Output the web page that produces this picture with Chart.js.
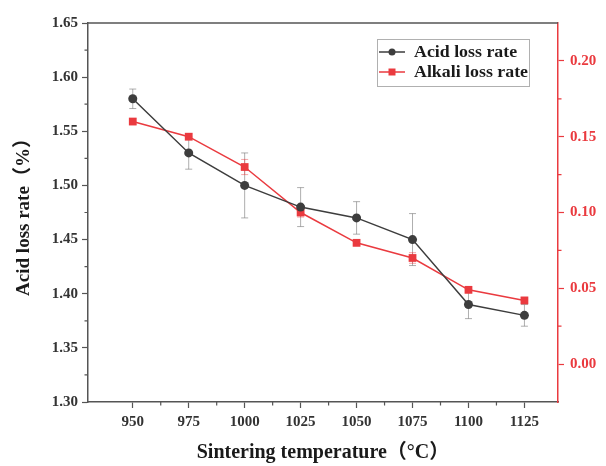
<!DOCTYPE html>
<html>
<head>
<meta charset="utf-8">
<script src="https://cdn.jsdelivr.net/npm/chart.js@4/dist/chart.umd.min.js"></script>
<style>
html,body{margin:0;padding:0;background:#fff;}
#wrap{width:606px;height:466px;}
</style>
</head>
<body>
<div id="wrap"><canvas id="c" width="606" height="466"></canvas></div>
<script>
const temperatures = [950, 975, 1000, 1025, 1050, 1075, 1100, 1125];
const acidLoss = [1.58, 1.53, 1.50, 1.48, 1.47, 1.45, 1.39, 1.38];
const acidErr = [0.009, 0.015, 0.03, 0.018, 0.015, 0.024, 0.013, 0.01];
const alkaliLoss = [0.160, 0.150, 0.130, 0.100, 0.080, 0.070, 0.049, 0.042];
const alkaliErr = [0.002, 0.002, 0.005, 0.003, 0.002, 0.0035, 0.002, 0.002];
const xTicks = [950, 975, 1000, 1025, 1050, 1075, 1100, 1125];
const xMinor = [962.5, 987.5, 1012.5, 1037.5, 1062.5, 1087.5, 1112.5];
const yTicks = [1.30, 1.35, 1.40, 1.45, 1.50, 1.55, 1.60, 1.65];
const yMinor = [1.325, 1.375, 1.425, 1.475, 1.525, 1.575, 1.625];
const y2Ticks = [0.00, 0.05, 0.10, 0.15, 0.20];
const y2Minor = [0.025, 0.075, 0.125, 0.175];
const seriesNames = ['Acid loss rate', 'Alkali loss rate'];

const BLACK = '#3d3d3d';
const RED = '#ea3a3f';
const AXIS = '#555555';
const SERIF = '"Liberation Serif", "Times New Roman", "Noto Sans CJK SC", serif';

const fixTicks = (arr) => (scale) => { scale.ticks = arr.map(v => ({ value: v })); };

const extras = {
  id: 'extras',
  beforeDatasetsDraw(chart) {
    const ctx = chart.ctx;
    const x = chart.scales.x, y = chart.scales.y, y2 = chart.scales.y2;
    ctx.save();
    ctx.lineWidth = 1;
    const bars = (vals, errs, sc, color) => {
      ctx.strokeStyle = color;
      vals.forEach((v, i) => {
        const px = x.getPixelForValue(temperatures[i]);
        const t = sc.getPixelForValue(v + errs[i]);
        const b = sc.getPixelForValue(v - errs[i]);
        ctx.beginPath();
        ctx.moveTo(px, t); ctx.lineTo(px, b);
        ctx.moveTo(px - 3.5, t); ctx.lineTo(px + 3.5, t);
        ctx.moveTo(px - 3.5, b); ctx.lineTo(px + 3.5, b);
        ctx.stroke();
      });
    };
    bars(acidLoss, acidErr, y, 'rgba(120,120,120,0.6)');
    bars(alkaliLoss, alkaliErr, y2, 'rgba(234,58,63,0.45)');
    ctx.restore();
  },
  afterDraw(chart) {
    const ctx = chart.ctx;
    const a = chart.chartArea;
    const x = chart.scales.x, y = chart.scales.y, y2 = chart.scales.y2;
    ctx.save();
    // top border
    ctx.strokeStyle = AXIS;
    ctx.lineWidth = 1.5;
    ctx.beginPath();
    ctx.moveTo(a.left, a.top); ctx.lineTo(a.right, a.top);
    ctx.stroke();
    // minor ticks
    ctx.lineWidth = 1.2;
    ctx.beginPath();
    xMinor.forEach(v => { const p = x.getPixelForValue(v); ctx.moveTo(p, a.bottom); ctx.lineTo(p, a.bottom + 3.5); });
    yMinor.forEach(v => { const p = y.getPixelForValue(v); ctx.moveTo(a.left, p); ctx.lineTo(a.left - 3.5, p); });
    ctx.stroke();
    ctx.strokeStyle = RED;
    ctx.beginPath();
    y2Minor.forEach(v => { const p = y2.getPixelForValue(v); ctx.moveTo(a.right, p); ctx.lineTo(a.right + 3.5, p); });
    ctx.stroke();
    // legend
    const lx = 377, ly = 39, lw = 152, lh = 47;
    ctx.fillStyle = '#fff';
    ctx.fillRect(lx, ly, lw, lh);
    ctx.strokeStyle = '#b0b0b0';
    ctx.lineWidth = 1;
    ctx.strokeRect(lx + 0.5, ly + 0.5, lw, lh);
    const rows = [
      { name: seriesNames[0], color: BLACK, shape: 'circle', cy: 52 },
      { name: seriesNames[1], color: RED, shape: 'rect', cy: 72 }
    ];
    rows.forEach(r => {
      ctx.strokeStyle = r.color;
      ctx.lineWidth = 1.5;
      ctx.beginPath();
      ctx.moveTo(379, r.cy); ctx.lineTo(405, r.cy);
      ctx.stroke();
      ctx.fillStyle = r.color;
      ctx.beginPath();
      if (r.shape === 'circle') ctx.arc(392, r.cy, 3.5, 0, Math.PI * 2);
      else ctx.rect(388.5, r.cy - 3.5, 7, 7);
      ctx.fill();
      ctx.save();
      ctx.translate(414, r.cy + 1);
      ctx.scale(1.05, 1);
      ctx.fillStyle = '#1a1a1a';
      ctx.font = 'bold 17px ' + SERIF;
      ctx.textBaseline = 'middle';
      ctx.textAlign = 'left';
      ctx.fillText(r.name, 0, 0);
      ctx.restore();
    });
    ctx.restore();
  }
};

new Chart(document.getElementById('c'), {
  type: 'line',
  data: {
    datasets: [
      {
        label: seriesNames[0],
        data: temperatures.map((t, i) => ({ x: t, y: acidLoss[i] })),
        yAxisID: 'y',
        borderColor: BLACK,
        backgroundColor: BLACK,
        borderWidth: 1.5,
        pointStyle: 'circle',
        pointRadius: 4.5,
        pointBorderWidth: 0,
        tension: 0
      },
      {
        label: seriesNames[1],
        data: temperatures.map((t, i) => ({ x: t, y: alkaliLoss[i] })),
        yAxisID: 'y2',
        borderColor: RED,
        backgroundColor: RED,
        borderWidth: 1.5,
        pointStyle: 'rect',
        pointRadius: 5.5,
        pointBorderWidth: 0,
        tension: 0
      }
    ]
  },
  options: {
    responsive: false,
    animation: false,
    devicePixelRatio: 1,
    layout: { padding: { top: 23, left: 0, right: 0, bottom: 0 } },
    plugins: { legend: { display: false }, tooltip: { enabled: false } },
    scales: {
      x: {
        type: 'linear',
        min: 930, max: 1140,
        afterBuildTicks: fixTicks(xTicks),
        afterFit: (s) => { s.height = 64; },
        grid: { drawOnChartArea: false, tickLength: 6, tickColor: AXIS, tickWidth: 1.2 },
        border: { color: AXIS, width: 1.5 },
        ticks: { color: '#333', padding: 5, font: { family: SERIF, size: 15, weight: 'bold' }, callback: (v) => String(v) },
        title: { display: true, text: 'Sintering temperature（°C）', color: '#1a1a1a', font: { family: SERIF, size: 20, weight: 'bold' }, padding: { top: 0, bottom: 1 } }
      },
      y: {
        type: 'linear',
        position: 'left',
        min: 1.30, max: 1.65,
        afterBuildTicks: fixTicks(yTicks),
        afterFit: (s) => { s.width = 88; },
        grid: { drawOnChartArea: false, tickLength: 6, tickColor: AXIS, tickWidth: 1.2 },
        border: { color: AXIS, width: 1.5 },
        ticks: { color: '#333', padding: 4, font: { family: SERIF, size: 15, weight: 'bold' }, callback: (v) => v.toFixed(2) },
        title: { display: true, text: 'Acid loss rate（%）', color: '#1a1a1a', font: { family: SERIF, size: 19, weight: 'bold' }, padding: { top: 13, bottom: 13 } }
      },
      y2: {
        type: 'linear',
        position: 'right',
        min: -0.025, max: 0.225,
        afterBuildTicks: fixTicks(y2Ticks),
        afterFit: (s) => { s.width = 48; },
        grid: { drawOnChartArea: false, tickLength: 6, tickColor: RED, tickWidth: 1.2 },
        border: { color: RED, width: 1.5 },
        ticks: { color: RED, padding: 6, font: { family: SERIF, size: 15, weight: 'bold' }, callback: (v) => v.toFixed(2) }
      }
    }
  },
  plugins: [extras]
});
</script>
</body>
</html>
